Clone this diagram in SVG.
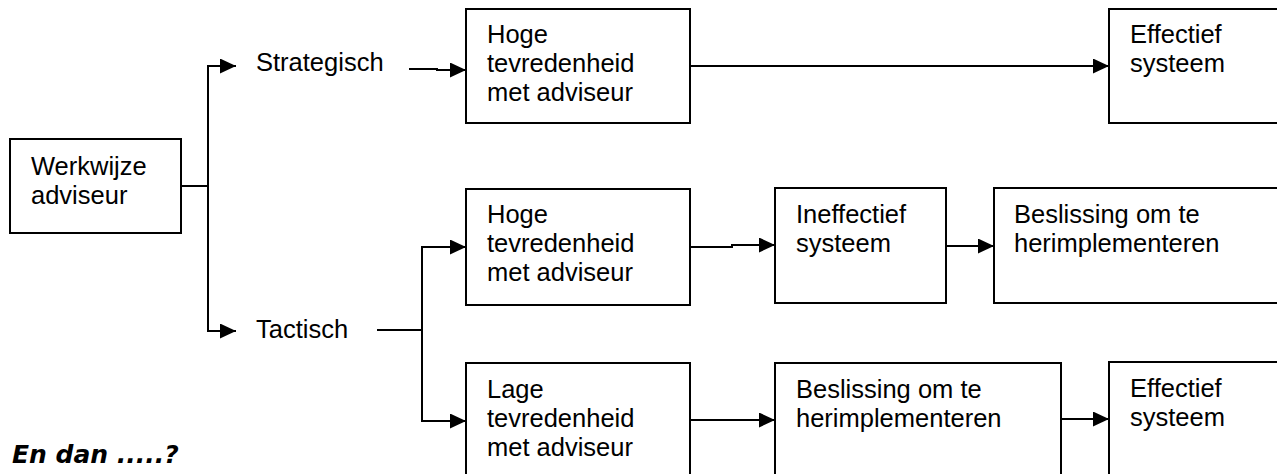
<svg xmlns="http://www.w3.org/2000/svg" width="1277" height="474" viewBox="0 0 1277 474">
  <style>
    .box { fill: #ffffff; stroke: #000000; stroke-width: 2; }
    .lbl { font-family: "Liberation Sans", Arial, sans-serif; font-size: 25.5px; fill: #000000; }
    .conn { fill: none; stroke: #000000; stroke-width: 2; }
    .note { font-family: "DejaVu Sans", sans-serif; font-size: 25px; font-weight: bold; font-style: italic; fill: #000000; }
  </style>
  <defs>
    <marker id="arrow" markerUnits="userSpaceOnUse" markerWidth="16" markerHeight="15" refX="16" refY="7.5" orient="auto">
      <path d="M0,0 L16,7.5 L0,15 Z" fill="#000000"/>
    </marker>
  </defs>
  <rect width="1277" height="474" fill="#ffffff"/>

  <g id="connectors">
    <polyline class="conn" points="181,186 208,186"/>
    <polyline class="conn" points="208,186 208,66 236,66" marker-end="url(#arrow)"/>
    <polyline class="conn" points="208,186 208,331 236,331" marker-end="url(#arrow)"/>
    <polyline class="conn" points="409,69 437,69 437,70 466,70" marker-end="url(#arrow)"/>
    <polyline class="conn" points="690,66 1109,66" marker-end="url(#arrow)"/>
    <polyline class="conn" points="377,330 422,330"/>
    <polyline class="conn" points="422,330 422,247 466,247" marker-end="url(#arrow)"/>
    <polyline class="conn" points="422,330 422,421 466,421" marker-end="url(#arrow)"/>
    <polyline class="conn" points="690,247 732,247 732,245 775,245" marker-end="url(#arrow)"/>
    <polyline class="conn" points="946,246 994,246" marker-end="url(#arrow)"/>
    <polyline class="conn" points="690,420 775,420" marker-end="url(#arrow)"/>
    <polyline class="conn" points="1061,419 1109,419" marker-end="url(#arrow)"/>
  </g>

  <g id="werkwijze">
    <rect class="box" x="10" y="139" width="171" height="94"/>
    <text class="lbl" x="31" y="175">Werkwijze<tspan x="31" dy="29">adviseur</tspan></text>
  </g>

  <g id="strategisch">
    <text class="lbl" x="256" y="71">Strategisch</text>
  </g>

  <g id="tactisch">
    <text class="lbl" x="256" y="338">Tactisch</text>
  </g>

  <g id="hoge-1">
    <rect class="box" x="466" y="9" width="224" height="114"/>
    <text class="lbl" x="487" y="43">Hoge<tspan x="487" dy="29">tevredenheid</tspan><tspan x="487" dy="29">met adviseur</tspan></text>
  </g>

  <g id="effectief-1">
    <rect class="box" x="1109" y="9" width="200" height="114"/>
    <text class="lbl" x="1130" y="43">Effectief<tspan x="1130" dy="29">systeem</tspan></text>
  </g>

  <g id="hoge-2">
    <rect class="box" x="466" y="189" width="224" height="116"/>
    <text class="lbl" x="487" y="223">Hoge<tspan x="487" dy="29">tevredenheid</tspan><tspan x="487" dy="29">met adviseur</tspan></text>
  </g>

  <g id="ineffectief">
    <rect class="box" x="775" y="188" width="171" height="115"/>
    <text class="lbl" x="796" y="223">Ineffectief<tspan x="796" dy="29">systeem</tspan></text>
  </g>

  <g id="beslissing-1">
    <rect class="box" x="994" y="188" width="320" height="115"/>
    <text class="lbl" x="1014" y="223">Beslissing om te<tspan x="1014" dy="29">herimplementeren</tspan></text>
  </g>

  <g id="lage">
    <rect class="box" x="466" y="363" width="224" height="150"/>
    <text class="lbl" x="487" y="398">Lage<tspan x="487" dy="29">tevredenheid</tspan><tspan x="487" dy="29">met adviseur</tspan></text>
  </g>

  <g id="beslissing-2">
    <rect class="box" x="775" y="363" width="286" height="150"/>
    <text class="lbl" x="796" y="398">Beslissing om te<tspan x="796" dy="29">herimplementeren</tspan></text>
  </g>

  <g id="effectief-2">
    <rect class="box" x="1109" y="362" width="200" height="150"/>
    <text class="lbl" x="1130" y="397">Effectief<tspan x="1130" dy="29">systeem</tspan></text>
  </g>

  <g id="en-dan">
    <text class="note" x="12" y="463">En dan .....?</text>
  </g>
</svg>
